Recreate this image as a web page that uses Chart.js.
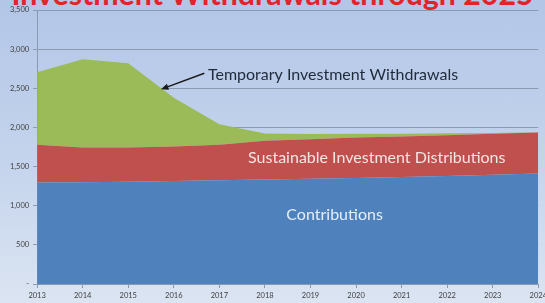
<!DOCTYPE html>
<html>
<head>
<meta charset="utf-8">
<script src="https://cdn.jsdelivr.net/npm/chart.js@4.4.0/dist/chart.umd.min.js"></script>
<style>
  html, body { margin: 0; padding: 0; }
  body {
    width: 545px; height: 303px; overflow: hidden; position: relative;
    background: linear-gradient(to bottom, #b3c6e7 0%, #c3d3ec 50%, #dbe4f2 100%);
  }
  #title {
    position: absolute; left: 0; top: -23px; width: 545px; text-align: center;
    font-family: Lato, "Open Sans", sans-serif; font-weight: bold; font-size: 32px;
    line-height: 32px; color: #e0242b; white-space: nowrap;
  }
  #wrap { position: absolute; left: 0; top: 0; width: 550px; height: 303px; }
</style>
</head>
<body>
<div id="title">Investment Withdrawals through 2025</div>
<div id="wrap"><canvas id="area"></canvas></div>
<script>
// data
const years = [2013, 2014, 2015, 2016, 2017, 2018, 2019, 2020, 2021, 2022, 2023, 2024];
const contributions = [1295, 1300, 1305, 1315, 1325, 1335, 1345, 1355, 1368, 1380, 1395, 1410];
const sustainable = [485, 445, 440, 440, 455, 495, 505, 515, 517, 520, 523, 526];
const temporary = [925, 1127, 1075, 625, 260, 93, 65, 48, 35, 25, 12, 4];
const yTicks = [0, 500, 1000, 1500, 2000, 2500, 3000, 3500];

// labels placed on the chart (data coordinates)
const notes = [
  { text: 'Temporary Investment Withdrawals', x: 2016.75, y: 2667, color: '#1f2a3a' },
  { text: 'Sustainable Investment Distributions', x: 2017.63, y: 1615, color: '#f4e4e4' },
  { text: 'Contributions', x: 2018.47, y: 885, color: '#e4eef9' }
];
const arrow = { from: [2016.67, 2692], to: [2015.72, 2487] };

// fit title to its width in the reference
const t = document.getElementById('title');
const cx = document.createElement('canvas').getContext('2d');
cx.font = 'bold 32px Lato';
const w = cx.measureText(t.textContent).width;
t.style.fontSize = (32 * 522 / w).toFixed(1) + 'px';

const toPts = arr => years.map((y, i) => ({ x: y, y: arr[i] }));

const notesPlugin = {
  id: 'notes',
  afterDatasetsDraw(chart) {
    const { ctx, scales: { x, y } } = chart;
    ctx.save();
    ctx.font = '16px Lato, "Open Sans", sans-serif';
    ctx.textBaseline = 'middle';
    ctx.textAlign = 'left';
    notes.forEach(n => {
      ctx.fillStyle = n.color;
      ctx.fillText(n.text, x.getPixelForValue(n.x), y.getPixelForValue(n.y));
    });
    // arrow
    const x1 = x.getPixelForValue(arrow.from[0]), y1 = y.getPixelForValue(arrow.from[1]);
    const x2 = x.getPixelForValue(arrow.to[0]), y2 = y.getPixelForValue(arrow.to[1]);
    const ang = Math.atan2(y2 - y1, x2 - x1);
    ctx.strokeStyle = '#1a1a1a';
    ctx.fillStyle = '#1a1a1a';
    ctx.lineWidth = 1.5;
    ctx.beginPath();
    ctx.moveTo(x1, y1);
    ctx.lineTo(x2 - 4 * Math.cos(ang), y2 - 4 * Math.sin(ang));
    ctx.stroke();
    ctx.beginPath();
    ctx.moveTo(x2, y2);
    ctx.lineTo(x2 - 8 * Math.cos(ang - 0.4), y2 - 8 * Math.sin(ang - 0.4));
    ctx.lineTo(x2 - 8 * Math.cos(ang + 0.4), y2 - 8 * Math.sin(ang + 0.4));
    ctx.closePath();
    ctx.fill();
    ctx.restore();
  }
};

new Chart(document.getElementById('area'), {
  type: 'line',
  data: {
    datasets: [
      { label: 'Contributions', data: toPts(contributions), backgroundColor: '#4f81bd', fill: 'origin' },
      { label: 'Sustainable Investment Distributions', data: toPts(sustainable), backgroundColor: '#c0504d', fill: '-1' },
      { label: 'Temporary Investment Withdrawals', data: toPts(temporary), backgroundColor: '#9bbb59', fill: '-1' }
    ]
  },
  options: {
    responsive: true,
    maintainAspectRatio: false,
    animation: false,
    elements: { point: { radius: 0 }, line: { borderWidth: 0, tension: 0 } },
    layout: { padding: { left: 6, top: 10, right: 0, bottom: 0 } },
    plugins: { legend: { display: false }, tooltip: { enabled: false } },
    scales: {
      x: {
        type: 'linear',
        min: years[0],
        max: years[years.length - 1],
        grid: { drawOnChartArea: false, color: '#8a9ab0', tickLength: 4 },
        border: { color: '#8a9ab0' },
        afterBuildTicks: s => { s.ticks = years.map(v => ({ value: v })); },
        ticks: {
          callback: v => String(v),
          color: '#404040', font: { family: 'Lato', size: 7.5 }, padding: 3, maxRotation: 0
        }
      },
      y: {
        stacked: true,
        min: 0,
        max: 3500,
        afterBuildTicks: s => { s.ticks = yTicks.map(v => ({ value: v })); },
        grid: { color: '#8a9ab0', lineWidth: 1, tickLength: 4 },
        border: { color: '#8a9ab0' },
        ticks: {
          callback: v => v === 0 ? '-' : v.toLocaleString('en-US'),
          color: '#404040', font: { family: 'Lato', size: 7.5 }, padding: 4
        }
      }
    }
  },
  plugins: [notesPlugin]
});
</script>
</body>
</html>
